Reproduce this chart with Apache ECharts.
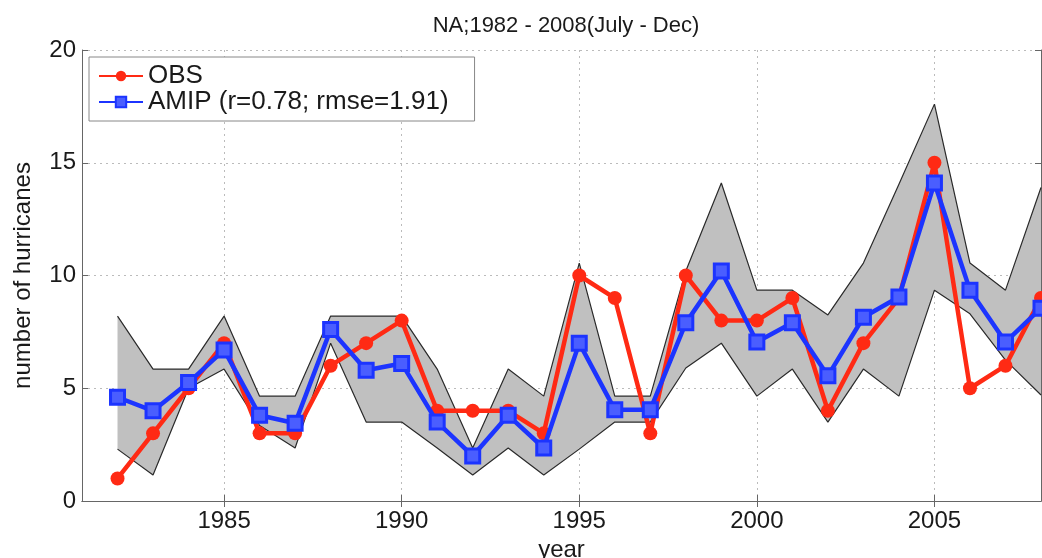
<!DOCTYPE html>
<html>
<head>
<meta charset="utf-8">
<title>NA hurricanes</title>
<script src="https://cdn.jsdelivr.net/npm/echarts@6/dist/echarts.min.js"></script>
<style>
  html, body { margin: 0; padding: 0; background: #fff; }
  #chart { width: 1042px; height: 558px; }
</style>
</head>
<body>
<div id="chart"></div>
<script>
// years and values
const years = [1982, 1983, 1984, 1985, 1986, 1987, 1988, 1989, 1990, 1991, 1992, 1993, 1994, 1995,
  1996, 1997, 1998, 1999, 2000, 2001, 2002, 2003, 2004, 2005, 2006, 2007, 2008]
const obs = [1, 3, 5, 7, 3, 3, 6, 7, 8, 4, 4, 4, 3, 10, 9, 3, 10, 8, 8, 9, 4, 7, 9, 15, 5, 6, 9]
const amip = [4.6, 4.0, 5.25, 6.7, 3.8, 3.45, 7.6, 5.8, 6.1, 3.5, 2.0, 3.8, 2.35, 7.0, 4.05, 4.05,
  7.9, 10.2, 7.05, 7.9, 5.55, 8.15, 9.05, 14.1, 9.35, 7.05, 8.55]
// ensemble spread (grey band)
const bandUpper = [8.2, 5.85, 5.85, 8.2, 4.65, 4.65, 8.2, 8.2, 8.2, 5.85, 2.35, 5.85, 4.65, 10.55,
  4.65, 4.65, 10.2, 14.1, 9.35, 9.35, 8.25, 10.55, 14.05, 17.6, 10.55, 9.35, 13.9]
const bandLower = [2.3, 1.15, 5.0, 5.85, 3.35, 2.35, 7.0, 3.5, 3.5, 2.35, 1.15, 2.35, 1.15, 2.3,
  3.5, 3.5, 5.9, 7.0, 4.65, 5.85, 3.5, 5.85, 4.65, 9.35, 8.3, 6.25, 4.7]
const xTicks = [1985, 1990, 1995, 2000, 2005]
const yTicks = [0, 5, 10, 15, 20]

const font = "'Liberation Sans', Arial, Helvetica, sans-serif"
const red = '#ff2a14'
const blue = '#1c34ff'

function pairs(vals) {
  return years.map((y, i) => [y, vals[i]])
}

const chart = echarts.init(document.getElementById('chart'))

const option = {
  animation: false,
  backgroundColor: '#fff',
  textStyle: {fontFamily: font},
  title: {
    text: 'NA;1982 - 2008(July - Dec)',
    left: 561,
    textAlign: 'center',
    top: 10,
    textStyle: {fontFamily: font, fontSize: 22, fontWeight: 'normal', color: '#1a1a1a'}
  },
  grid: {left: 82, right: 1, top: 50, bottom: 57, outerBoundsMode: 'none'},
  legend: {
    orient: 'vertical',
    left: 89,
    top: 57,
    data: ['OBS', 'AMIP (r=0.78; rmse=1.91)'],
    itemWidth: 44,
    itemHeight: 13,
    itemGap: 0,
    padding: [6, 26, 6, 9],
    borderColor: '#888',
    borderWidth: 1,
    backgroundColor: '#fff',
    textStyle: {fontFamily: font, fontSize: 26, color: '#1a1a1a', lineHeight: 26}
  },
  xAxis: [
    {
      type: 'value',
      min: 1981,
      max: 2008,
      name: 'year',
      nameLocation: 'middle',
      nameGap: 36,
      nameTextStyle: {fontFamily: font, fontSize: 24, color: '#1a1a1a'},
      axisLine: {lineStyle: {color: '#666', width: 1}},
      axisTick: {inside: true, length: 6, customValues: xTicks, lineStyle: {color: '#666'}},
      axisLabel: {customValues: xTicks, fontSize: 24, color: '#1a1a1a', margin: 8, fontFamily: font,
        formatter: v => String(v)},
      splitLine: {show: true, lineStyle: {color: '#bbb', type: [2, 4], width: 1}}
    },
    {
      type: 'value',
      position: 'top',
      min: 1981,
      max: 2008,
      axisLine: {lineStyle: {color: '#666', width: 1}},
      axisTick: {inside: true, length: 6, customValues: xTicks, lineStyle: {color: '#666'}},
      axisLabel: {show: false},
      splitLine: {show: false}
    }
  ],
  yAxis: [
    {
      type: 'value',
      min: 0,
      max: 20,
      interval: 5,
      name: 'number of hurricanes',
      nameLocation: 'middle',
      nameGap: 47,
      nameTextStyle: {fontFamily: font, fontSize: 24, color: '#1a1a1a'},
      axisLine: {show: true, lineStyle: {color: '#666', width: 1}},
      axisTick: {show: true, inside: true, length: 6, lineStyle: {color: '#666'}},
      axisLabel: {fontSize: 24, color: '#1a1a1a', margin: 6, fontFamily: font,
        formatter: v => yTicks.includes(v) ? String(v) : ''},
      splitLine: {show: true, lineStyle: {color: '#bbb', type: [2, 4], width: 1}}
    },
    {
      type: 'value',
      position: 'right',
      min: 0,
      max: 20,
      interval: 5,
      axisLine: {show: true, lineStyle: {color: '#666', width: 1}},
      axisTick: {show: true, inside: true, length: 6, lineStyle: {color: '#666'}},
      axisLabel: {show: false},
      splitLine: {show: false}
    }
  ],
  series: [
    {
      // grey spread, one polygon through the axis scales
      name: 'spread',
      type: 'custom',
      silent: true,
      z: 1,
      data: [[years[0], bandLower[0]]],
      renderItem: function (params, api) {
        const pts = []
        for (let i = 0; i < years.length; i++) pts.push(api.coord([years[i], bandUpper[i]]))
        for (let j = years.length - 1; j >= 0; j--) pts.push(api.coord([years[j], bandLower[j]]))
        return {type: 'polygon', shape: {points: pts}, style: {fill: '#c0c0c0'}}
      }
    },
    {
      name: 'upper',
      type: 'line',
      data: pairs(bandUpper),
      symbol: 'none',
      silent: true,
      z: 2,
      lineStyle: {color: '#2a2a2a', width: 1.2}
    },
    {
      name: 'lower',
      type: 'line',
      data: pairs(bandLower),
      symbol: 'none',
      silent: true,
      z: 2,
      lineStyle: {color: '#2a2a2a', width: 1.2}
    },
    {
      name: 'OBS',
      type: 'line',
      data: pairs(obs),
      z: 3,
      symbol: 'circle',
      symbolSize: 14,
      itemStyle: {color: red},
      lineStyle: {color: red, width: 4.5}
    },
    {
      name: 'AMIP (r=0.78; rmse=1.91)',
      type: 'line',
      data: pairs(amip),
      z: 4,
      symbol: 'rect',
      symbolSize: 14,
      itemStyle: {color: '#4a5eff', borderColor: blue, borderWidth: 3},
      lineStyle: {color: blue, width: 4.5}
    }
  ]
}

chart.setOption(option)
</script>
</body>
</html>
